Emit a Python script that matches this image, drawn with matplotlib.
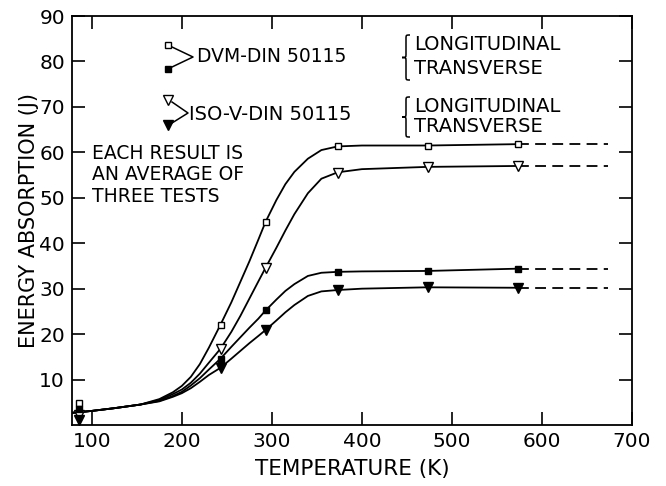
import matplotlib
matplotlib.use("Agg")
import matplotlib.pyplot as plt
from matplotlib.path import Path
from matplotlib.patches import PathPatch

plt.rcParams['font.family'] = ['DejaVu Sans']

# measured test temperatures (K) and mean energies (J)
temps = [86, 243, 293, 373, 473, 573]
dvm_long = [4.9, 22.1, 44.7, 61.3, 61.5, 61.8]
dvm_trans = [3.6, 14.6, 25.2, 33.7, 33.9, 34.4]
iso_long = [2.3, 16.8, 34.6, 55.5, 56.8, 57.0]
iso_trans = [1.0, 12.6, 20.9, 29.7, 30.3, 30.2]

# hand drawn fit curves
curve_t = [79, 100, 125, 154, 175, 190, 200, 210, 220, 230, 243, 255, 265, 275, 285,
           293, 305, 315, 325, 340, 355, 373, 400, 473, 573]
curve_dvm_long = [2.7, 3.1, 3.7, 4.5, 5.7, 7.2, 8.6, 10.6, 13.4, 17.0, 22.1, 27.0, 31.5,
                  36.0, 40.8, 44.7, 49.5, 53.0, 55.7, 58.6, 60.5, 61.3, 61.5, 61.5, 61.8]
curve_iso_long = [2.7, 3.1, 3.7, 4.5, 5.5, 6.8, 7.8, 9.3, 11.3, 13.7, 16.8, 20.5, 24.0,
                  27.8, 31.6, 34.6, 39.0, 42.8, 46.4, 51.0, 54.2, 55.6, 56.3, 56.8, 57.0]
curve_dvm_trans = [2.7, 3.1, 3.7, 4.5, 5.3, 6.4, 7.3, 8.7, 10.3, 12.2, 14.6, 17.2, 19.3,
                   21.4, 23.4, 25.2, 27.6, 29.5, 31.0, 32.8, 33.5, 33.7, 33.8, 33.9, 34.4]
curve_iso_trans = [2.7, 3.1, 3.7, 4.5, 5.2, 6.2, 7.0, 8.1, 9.5, 11.0, 12.6, 14.6, 16.3,
                   18.0, 19.6, 20.9, 23.0, 24.8, 26.4, 28.4, 29.4, 29.7, 30.0, 30.3, 30.2]

ext_t = [573, 673]

xticks = [100, 200, 300, 400, 500, 600, 700]
yticks = [10, 20, 30, 40, 50, 60, 70, 80, 90]

fig = plt.figure(figsize=(6.66, 4.86), dpi=100)
ax = fig.add_axes([72 / 666, 61 / 486, 560 / 666, 409 / 486])

series = [
    (curve_dvm_long, dvm_long, 's', 'white', 5),
    (curve_iso_long, iso_long, 'v', 'white', 7),
    (curve_dvm_trans, dvm_trans, 's', 'black', 5),
    (curve_iso_trans, iso_trans, 'v', 'black', 7),
]
for curve, pts, mk, fc, ms in series:
    ax.plot(curve_t, curve, color='black', lw=1.3, zorder=2)
    ax.plot(ext_t, [curve[-1], curve[-1]], color='black', lw=1.3,
            dashes=(6, 3.5), zorder=2)
    ax.plot(temps, pts, ls='none', marker=mk, ms=ms, mfc=fc, mec='black',
            mew=1.0, zorder=3, clip_on=False)

ax.set_xlim(78, 700)
ax.set_ylim(0, 90)
ax.set_xticks(xticks)
ax.set_yticks(yticks)
ax.tick_params(direction='in', length=9.5, width=1.2, labelsize=14.5,
               top=True, right=True, pad=5)
for s in ax.spines.values():
    s.set_linewidth(1.3)

ax.set_xlabel("TEMPERATURE (K)", fontsize=15.5, labelpad=6)
ax.set_ylabel("ENERGY ABSORPTION (J)", fontsize=15, labelpad=0)


def px(x, y):
    # image pixel -> axes fraction
    return ((x - 72) / 560, (425 - y) / 409)


def brace(x, y0, y1, w=8, r=4):
    ym = (y0 + y1) / 2
    h = x + w / 2
    pts = [(x + w, y0), (h, y0), (h, y0), (h, y0 + r),
           (h, ym - r),
           (h, ym), (h, ym), (x, ym),
           (h, ym), (h, ym), (h, ym + r),
           (h, y1 - r),
           (h, y1), (h, y1), (x + w, y1)]
    codes = [Path.MOVETO, Path.CURVE4, Path.CURVE4, Path.CURVE4, Path.LINETO,
             Path.CURVE4, Path.CURVE4, Path.CURVE4, Path.CURVE4, Path.CURVE4,
             Path.CURVE4, Path.LINETO, Path.CURVE4, Path.CURVE4, Path.CURVE4]
    path = Path([px(*p) for p in pts], codes)
    ax.add_patch(PathPatch(path, fill=False, lw=1.1, ec='black',
                           transform=ax.transAxes, clip_on=False))


tr = ax.transAxes
# legend block
ax.plot(*px(168, 45), marker='s', ms=5, mfc='white', mec='black', transform=tr, clip_on=False)
ax.plot(*px(168, 69), marker='s', ms=5, mfc='black', mec='black', transform=tr, clip_on=False)
ax.plot([px(172, 47)[0], px(193, 57)[0], px(172, 67)[0]],
        [px(172, 47)[1], px(193, 57)[1], px(172, 67)[1]],
        color='black', lw=1.1, transform=tr, clip_on=False)
ax.text(*px(197, 57), "DVM-DIN 50115", fontsize=13.5, va='center', ha='left', transform=tr)

ax.plot(*px(168, 100), marker='v', ms=7, mfc='white', mec='black', transform=tr, clip_on=False)
ax.plot(*px(168, 125), marker='v', ms=7, mfc='black', mec='black', transform=tr, clip_on=False)
ax.plot([px(172, 102)[0], px(188, 113)[0], px(172, 123)[0]],
        [px(172, 102)[1], px(188, 113)[1], px(172, 123)[1]],
        color='black', lw=1.1, transform=tr, clip_on=False)
ax.text(*px(189, 114), "ISO-V-DIN 50115", fontsize=14, va='center', ha='left', transform=tr)

for y0, y1, ya, yb in [(35, 80, 45, 68), (97, 137, 107, 127)]:
    brace(402, y0, y1)
    ax.text(*px(414, ya), "LONGITUDINAL", fontsize=14, va='center', ha='left', transform=tr)
    ax.text(*px(414, yb), "TRANSVERSE", fontsize=14, va='center', ha='left', transform=tr)

ax.text(*px(92, 144), "EACH RESULT IS\nAN AVERAGE OF\nTHREE TESTS", fontsize=13.5,
        va='top', ha='left', linespacing=1.15, transform=tr)

plt.savefig('out.png', dpi=100)
